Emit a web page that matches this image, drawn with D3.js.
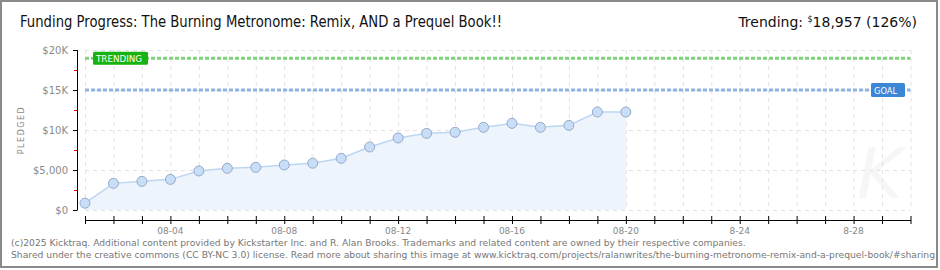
<!DOCTYPE html>
<html>
<head>
<meta charset="utf-8">
<script src="https://cdn.jsdelivr.net/npm/d3@7"></script>
<style>
  body { margin: 0; background: #fff; }
  text { font-family: "DejaVu Sans", sans-serif; }
</style>
</head>
<body>
<div id="chart"></div>
<script>
var chart_width = 940;
var chart_height = 270;

// data
var days = ['2025-08-01','2025-08-02','2025-08-03','2025-08-04','2025-08-05','2025-08-06','2025-08-07',
            '2025-08-08','2025-08-09','2025-08-10','2025-08-11','2025-08-12','2025-08-13','2025-08-14',
            '2025-08-15','2025-08-16','2025-08-17','2025-08-18','2025-08-19','2025-08-20'];
var pledged = [850, 3330, 3580, 3830, 4880, 5210, 5330, 5630, 5850, 6460, 7880, 9000, 9580, 9710,
               10330, 10830, 10330, 10580, 12250, 12250];
var goal = 15000;
var trending = 18957;
var y_ticks = [0, 5000, 10000, 15000, 20000];
var y_tick_labels = ['$0', '$5,000', '$10K', '$15K', '$20K'];
var x_label_days = ['2025-08-04','2025-08-08','2025-08-12','2025-08-16','2025-08-20','2025-08-24','2025-08-28'];
var x_labels = ['08-04', '08-08', '08-12', '08-16', '08-20', '8-24', '8-28'];

var parse = d3.timeParse('%Y-%m-%d');
var data = days.map((d, i) => [parse(d), pledged[i]]);

var svg = d3.select('#chart')
            .append('svg')
            .attr('width', chart_width)
            .attr('height', chart_height);

// frame
svg.append('rect')
    .attr('x', 1).attr('y', 1)
    .attr('width', 936).attr('height', 266)
    .attr('fill', '#fff')
    .attr('stroke', '#8a8a8a')
    .attr('stroke-width', 2);

// scales
var x_scale = d3.scaleTime()
                .domain([parse('2025-08-01'), parse('2025-08-30')])
                .range([85, 910.5]);

var y_scale = d3.scaleLinear()
                .domain([0, 20000])
                .range([210, 50]);

// watermark
svg.append('text')
    .attr('x', 880).attr('y', 198)
    .attr('text-anchor', 'middle')
    .attr('font-family', 'DejaVu Serif')
    .attr('font-style', 'italic')
    .attr('font-size', 70)
    .attr('fill', '#f6f6f6')
    .text('K');

// grid
var all_days = d3.timeDay.range(parse('2025-08-01'), d3.timeDay.offset(parse('2025-08-30'), 1));
svg.append('g')
    .selectAll('line')
    .data(all_days)
    .enter()
    .append('line')
    .attr('x1', (d) => x_scale(d) + 0.5)
    .attr('x2', (d) => x_scale(d) + 0.5)
    .attr('y1', y_scale(20000))
    .attr('y2', y_scale(0))
    .attr('stroke', '#e2e2e2')
    .attr('stroke-dasharray', '4,4');

svg.append('g')
    .selectAll('line')
    .data(y_ticks)
    .enter()
    .append('line')
    .attr('x1', 85)
    .attr('x2', 910.5)
    .attr('y1', (d) => y_scale(d) + 0.5)
    .attr('y2', (d) => y_scale(d) + 0.5)
    .attr('stroke', '#e2e2e2')
    .attr('stroke-dasharray', '4,4');

// area + line
var area = d3.area()
             .x((d) => x_scale(d[0]))
             .y0(y_scale(0))
             .y1((d) => y_scale(d[1]));
svg.append('path')
    .datum(data)
    .attr('d', area)
    .attr('fill', '#edf4fc');

var line = d3.line()
             .x((d) => x_scale(d[0]))
             .y((d) => y_scale(d[1]));
svg.append('path')
    .datum(data)
    .attr('d', line)
    .attr('fill', 'none')
    .attr('stroke', '#bcd6f2')
    .attr('stroke-width', 1.5);

// goal and trending lines
svg.append('line')
    .attr('x1', 85).attr('x2', 910.5)
    .attr('y1', y_scale(trending)).attr('y2', y_scale(trending))
    .attr('stroke', '#7fd27a')
    .attr('stroke-width', 3)
    .attr('stroke-dasharray', '4,2');

svg.append('line')
    .attr('x1', 85).attr('x2', 910.5)
    .attr('y1', y_scale(goal)).attr('y2', y_scale(goal))
    .attr('stroke', '#8fb3dd')
    .attr('stroke-width', 3)
    .attr('stroke-dasharray', '4,2');

// points
svg.selectAll('circle')
    .data(data)
    .enter()
    .append('circle')
    .attr('cx', (d) => x_scale(d[0]))
    .attr('cy', (d) => y_scale(d[1]))
    .attr('r', 5)
    .attr('fill', '#c8def8')
    .attr('stroke', '#97a9c6')
    .attr('stroke-width', 1);

// labels on lines
svg.append('rect')
    .attr('x', 93).attr('y', y_scale(trending) - 6.5)
    .attr('width', 55).attr('height', 13)
    .attr('rx', 1.5)
    .attr('fill', '#16b312');
svg.append('text')
    .attr('x', 96).attr('y', y_scale(trending) + 3.5)
    .attr('font-size', 9)
    .attr('textLength', 46)
    .attr('lengthAdjust', 'spacingAndGlyphs')
    .attr('fill', '#fff')
    .text('TRENDING');

svg.append('rect')
    .attr('x', 871).attr('y', y_scale(goal) - 7)
    .attr('width', 34).attr('height', 14)
    .attr('rx', 1.5)
    .attr('fill', '#3b87d6');
svg.append('text')
    .attr('x', 874).attr('y', y_scale(goal) + 3.5)
    .attr('font-size', 9)
    .attr('textLength', 23)
    .attr('lengthAdjust', 'spacingAndGlyphs')
    .attr('fill', '#fff')
    .text('GOAL');

// y axis
var y_axis = d3.axisLeft(y_scale)
               .tickValues(y_ticks)
               .tickSize(4)
               .tickPadding(5)
               .tickFormat((d, i) => y_tick_labels[i]);
var gy = svg.append('g')
    .attr('transform', 'translate(77,0)')
    .call(y_axis);
gy.select('.domain').attr('stroke', '#000').attr('d', 'M0.5,' + y_scale(20000) + 'V' + (y_scale(0) + 0.5));
gy.selectAll('.tick line').attr('stroke', '#000');
gy.selectAll('.tick text')
    .attr('fill', '#8a8a8a')
    .attr('font-size', 10)
    .attr('font-family', 'DejaVu Sans Mono');

gy.selectAll('.minor')
    .data([2500, 7500, 12500, 17500])
    .enter()
    .append('line')
    .attr('x1', -3).attr('x2', 0)
    .attr('y1', (d) => y_scale(d) + 0.5)
    .attr('y2', (d) => y_scale(d) + 0.5)
    .attr('stroke', '#e00000');

svg.append('text')
    .attr('transform', 'translate(24,130) rotate(-90)')
    .attr('text-anchor', 'middle')
    .attr('font-size', 8)
    .attr('letter-spacing', 1.5)
    .attr('fill', '#888')
    .text('PLEDGED');

// x axis
var x_axis = d3.axisBottom(x_scale)
               .tickValues(all_days)
               .tickSize(4)
               .tickSizeOuter(0)
               .tickFormat('');
var gx = svg.append('g')
    .attr('transform', 'translate(0,220)')
    .call(x_axis);
gx.select('.domain').attr('stroke', '#000');
gx.selectAll('.tick line').attr('stroke', '#000').attr('y1', -4);

svg.append('g')
    .selectAll('text')
    .data(x_label_days)
    .enter()
    .append('text')
    .attr('x', (d) => x_scale(parse(d)))
    .attr('y', 234)
    .attr('text-anchor', 'middle')
    .attr('font-size', 9)
    .attr('font-family', 'DejaVu Sans Mono')
    .attr('fill', '#888')
    .text((d, i) => x_labels[i]);

// title
svg.append('text')
    .attr('x', 20).attr('y', 27)
    .attr('font-family', 'DejaVu Sans Condensed')
    .attr('font-size', 15)
    .attr('fill', '#111')
    .attr('textLength', 482)
    .attr('lengthAdjust', 'spacingAndGlyphs')
    .text('Funding Progress: The Burning Metronome: Remix, AND a Prequel Book!!');

var tr = svg.append('text')
    .attr('x', 917).attr('y', 27)
    .attr('text-anchor', 'end')
    .attr('font-family', 'DejaVu Sans Condensed')
    .attr('font-size', 14)
    .attr('fill', '#111');
tr.append('tspan').text('Trending:  ');
tr.append('tspan').attr('font-size', 8).attr('dy', -5).text('$');
tr.append('tspan').attr('dy', 5).text('18,957 (126%)');

// footer
svg.append('text')
    .attr('x', 11).attr('y', 246)
    .attr('font-size', 9.2)
    .attr('fill', '#777')
    .text('(c)2025 Kicktraq. Additional content provided by Kickstarter Inc. and R. Alan Brooks. Trademarks and related content are owned by their respective companies.');
svg.append('text')
    .attr('x', 11).attr('y', 258)
    .attr('font-size', 9.2)
    .attr('fill', '#777')
    .attr('textLength', 924)
    .attr('lengthAdjust', 'spacingAndGlyphs')
    .text('Shared under the creative commons (CC BY-NC 3.0) license. Read more about sharing this image at www.kicktraq.com/projects/ralanwrites/the-burning-metronome-remix-and-a-prequel-book/#sharing');
</script>
</body>
</html>
